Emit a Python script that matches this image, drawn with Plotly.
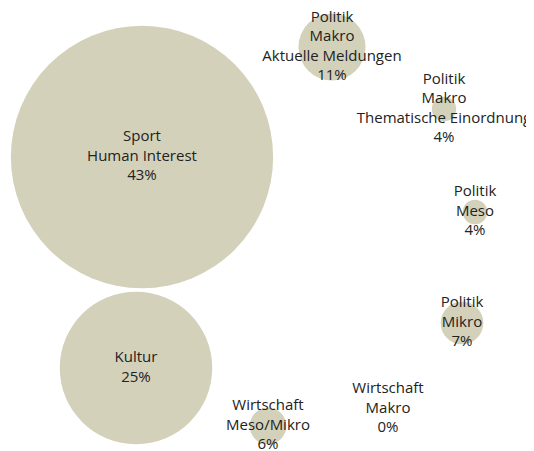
import plotly.graph_objects as go

labels = [
    "Sport<br>Human Interest",
    "Kultur",
    "Politik<br>Makro<br>Aktuelle Meldungen",
    "Politik<br>Makro<br>Thematische Einordnung",
    "Politik<br>Meso",
    "Politik<br>Mikro",
    "Wirtschaft<br>Meso/Mikro",
    "Wirtschaft<br>Makro",
]
shares = [43, 25, 11, 4, 4, 7, 6, 0]
# bubble layout positions (layout units)
pos_x = [141, 135, 331, 443, 474, 461, 267, 387]
pos_y = [156, 367, 46, 108, 211, 322, 425, 408]

texts = [f"{l}<br>{v}%" for l, v in zip(labels, shares)]

fig = go.Figure(go.Scatter(
    x=pos_x, y=pos_y,
    mode="markers+text",
    text=texts,
    textposition="middle center",
    textfont=dict(family="Open Sans", size=15, color="#222222"),
    marker=dict(size=shares, sizemode="diameter", sizeref=1 / 6.1,
                color="#d4d1ba", line=dict(width=0), opacity=1),
    hoverinfo="skip",
    cliponaxis=False,
))

fig.update_layout(
    width=534, height=451,
    margin=dict(l=0, r=0, t=0, b=0),
    paper_bgcolor="white", plot_bgcolor="white",
    showlegend=False,
    xaxis=dict(range=[7, 541], visible=False, fixedrange=True),
    yaxis=dict(range=[458, 7], visible=False, fixedrange=True),
)

fig.write_html("out.html")
